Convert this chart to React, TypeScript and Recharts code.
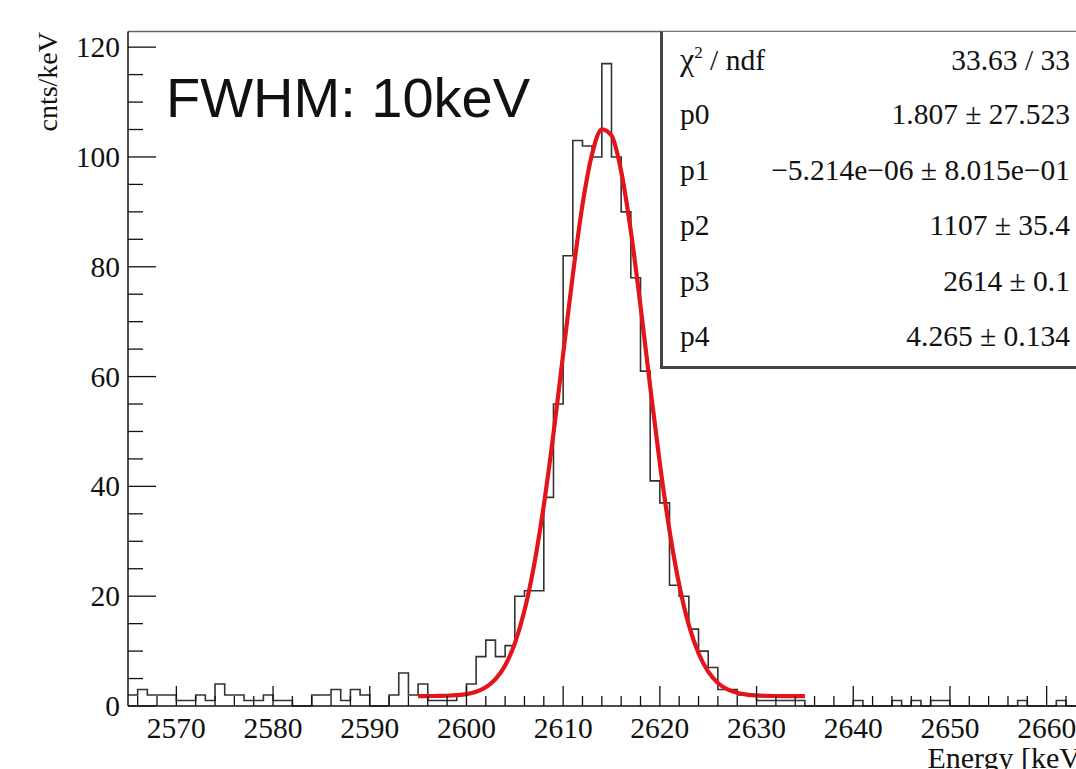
import { ComposedChart, Line, ReferenceLine, XAxis, YAxis } from "recharts";

// histogram: 1 keV bins starting at histStart
const histStart = 2565;
const counts = [
  2, 3, 2, 2, 2, 1, 1, 2, 1, 4, 2, 2, 1, 1, 2, 1, 1, 0, 0, 2,
  2, 3, 1, 3, 2, 0, 0, 2, 6, 2, 4, 1, 1, 1, 2, 4, 9, 12, 9, 11,
  20, 21, 21, 38, 55, 82, 103, 102, 100, 117, 100, 90, 78, 61, 41, 37, 22, 20, 14, 10,
  7, 3, 3, 2, 2, 1, 1, 1, 1, 1, 0, 0, 0, 0, 0, 1, 0, 0, 0, 1,
  0, 1, 0, 1, 1, 0, 0, 0, 0, 0, 0, 0, 1, 0, 0, 0, 1, 0, 0, 0,
];

// fitted curve, sampled every keV from fitStart
const fitStart = 2595;
const fitValues = [
  1.8, 1.81, 1.83, 1.87, 1.97, 2.17, 2.6, 3.42, 4.9, 7.39,
  11.39, 17.38, 25.72, 36.57, 49.63, 64.07, 78.52, 91.3, 100.6, 105.04,
  103.91, 97.39, 86.5, 72.84, 58.2, 44.17, 31.94, 22.09, 14.72, 9.6,
  6.25, 4.2, 3.03, 2.4, 2.07, 1.92, 1.85, 1.82, 1.81, 1.8, 1.8,
];

const xMajorTicks = [2570, 2580, 2590, 2600, 2610, 2620, 2630, 2640, 2650, 2660];
const yMajorTicks = [0, 20, 40, 60, 80, 100, 120];
const xMinorTicks = Array.from({ length: 50 }, (_, i) => 2566 + 2 * i);
const yMinorTicks = Array.from({ length: 25 }, (_, i) => 5 * i);
const yMax = 122.85;

const statsRows: Array<[string, string]> = [
  ["chi2", "33.63 / 33"],
  ["p0", "1.807 ± 27.523"],
  ["p1", "−5.214e−06 ± 8.015e−01"],
  ["p2", "1107 ± 35.4"],
  ["p3", "2614 ± 0.1"],
  ["p4", "4.265 ± 0.134"],
];

const serif = '"Liberation Serif", "Times New Roman", serif';

const histEnd = histStart + counts.length;
const table = Array.from({ length: counts.length + 1 }, (_, i) => {
  const x = histStart + i;
  const fi = x - fitStart;
  return {
    x,
    counts: counts[Math.min(i, counts.length - 1)],
    fit: fi >= 0 && fi < fitValues.length ? fitValues[fi] : undefined,
  };
});

function XTick({ x, y, payload }: any) {
  const major = xMajorTicks.includes(payload.value);
  return (
    <g>
      <line x1={x} x2={x} y1={y} y2={y - (major ? 20 : 10)} stroke="#111" strokeWidth={1.3} />
      {major && (
        <text x={x} y={y + 32} textAnchor="middle" fontFamily={serif} fontSize={29.5} fill="#111">
          {payload.value}
        </text>
      )}
    </g>
  );
}

function YTick({ x, y, payload }: any) {
  const major = yMajorTicks.includes(payload.value);
  return (
    <g>
      <line x1={x} x2={x + (major ? 28 : 15)} y1={y} y2={y} stroke="#111" strokeWidth={1.3} />
      {major && (
        <text x={x - 8} y={y + 10} textAnchor="end" fontFamily={serif} fontSize={29.5} fill="#111">
          {payload.value}
        </text>
      )}
    </g>
  );
}

function XTitle({ viewBox }: any) {
  const { x, y, width } = viewBox;
  return (
    <text x={x + width - 4} y={y + 62} textAnchor="end" fontFamily={serif} fontSize={30} fill="#111">
      Energy [keV]
    </text>
  );
}

function YTitle() {
  return (
    <text
      x={57}
      y={32}
      transform="rotate(-90 57 32)"
      textAnchor="end"
      fontFamily={serif}
      fontSize={28}
      fill="#111"
    >
      cnts/keV
    </text>
  );
}

function RowName({ name }: { name: string }) {
  if (name !== "chi2") return <span>{name}</span>;
  return (
    <span>
      <span style={{ fontSize: 32 }}>χ</span>
      <span style={{ fontSize: 17, position: "relative", top: -12 }}>2</span> / ndf
    </span>
  );
}

export default function App() {
  return (
    <div
      style={{
        position: "absolute",
        left: 0,
        top: 0,
        width: 1076,
        height: 769,
        overflow: "hidden",
        background: "#fff",
      }}
    >
      <ComposedChart
        width={1100}
        height={769}
        data={table}
        margin={{ top: 31.5, right: 5, bottom: 0, left: 0 }}
      >
        <XAxis
          dataKey="x"
          type="number"
          domain={[histStart, histEnd]}
          ticks={xMinorTicks}
          interval={0}
          height={63}
          tickSize={0}
          tickMargin={0}
          tickLine={false}
          tick={<XTick />}
          axisLine={{ stroke: "#111", strokeWidth: 1.5 }}
          label={<XTitle />}
        />
        <YAxis
          type="number"
          domain={[0, yMax]}
          ticks={yMinorTicks}
          interval={0}
          width={128}
          tickSize={0}
          tickMargin={0}
          tickLine={false}
          tick={<YTick />}
          axisLine={{ stroke: "#111", strokeWidth: 1.5 }}
          label={<YTitle />}
        />
        <ReferenceLine y={yMax} stroke="#666" strokeWidth={1.5} />
        <Line
          dataKey="counts"
          type="stepAfter"
          stroke="#333"
          strokeWidth={1.6}
          dot={false}
          activeDot={false}
          isAnimationActive={false}
        />
        <Line
          dataKey="fit"
          type="monotone"
          stroke="#e3141b"
          strokeWidth={4.2}
          dot={false}
          activeDot={false}
          connectNulls={false}
          isAnimationActive={false}
        />
      </ComposedChart>

      <div
        style={{
          position: "absolute",
          left: 166,
          top: 70,
          fontFamily: '"Liberation Sans", Arial, sans-serif',
          fontSize: 56,
          lineHeight: "56px",
          color: "#111",
          whiteSpace: "nowrap",
        }}
      >
        FWHM: 10keV
      </div>

      <div
        style={{
          position: "absolute",
          left: 660,
          top: 31,
          width: 430,
          height: 338,
          boxSizing: "border-box",
          background: "#fff",
          borderTop: "1.5px solid #777",
          borderLeft: "3px solid #444",
          borderBottom: "3px solid #444",
          fontFamily: serif,
          fontSize: 29.5,
          color: "#111",
          paddingLeft: 17,
          paddingRight: 20,
        }}
      >
        {statsRows.map(([name, value]) => (
          <div
            key={name}
            style={{
              display: "flex",
              justifyContent: "space-between",
              alignItems: "baseline",
              height: 55.4,
              lineHeight: "55.4px",
              whiteSpace: "nowrap",
            }}
          >
            <RowName name={name} />
            <span>{value}</span>
          </div>
        ))}
      </div>
    </div>
  );
}
